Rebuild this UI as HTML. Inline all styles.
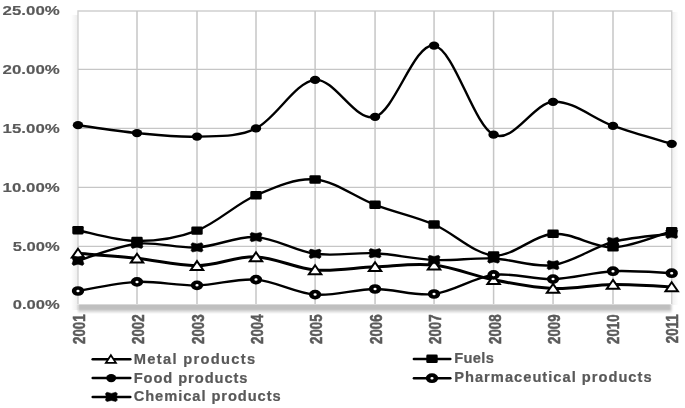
<!DOCTYPE html>
<html><head><meta charset="utf-8"><style>
html,body{margin:0;padding:0;background:#fff;}
body{width:685px;height:408px;overflow:hidden;}
svg{display:block;}
.grid line{stroke:#c6c6c6;stroke-width:1.2;}
.grid line.v{stroke-width:1.5;stroke:#c6c6c6;}
.ln{fill:none;stroke:#000;stroke-linejoin:round;}
.mk-food ellipse,.fill{fill:#000;}
.mk-fuel rect{fill:#000;}
.ring{fill:#fff;stroke:#000;stroke-width:2.9;}
.leg line{stroke:#000;stroke-linecap:round;}
text{font-family:"Liberation Sans",Arial,sans-serif;font-weight:bold;fill:#595959;stroke:#595959;stroke-width:0.45px;}
.yl text{font-size:13.3px;stroke-width:0.15px;}
.xl text{font-size:13.3px;}
.lt text{font-size:14px;stroke-width:0.2px;}
</style></head><body>
<svg width="685" height="408" viewBox="0 0 685 408">
<defs>
 <path id="mx" d="M-6.0,-3.2 L-4.5,-4.7 L0,-3.5 L4.5,-4.7 L6.0,-3.2 L4.9,0 L6.0,3.2 L4.5,4.7 L0,3.5 L-4.5,4.7 L-6.0,3.2 L-4.9,0 Z" fill="#000" stroke="#000" stroke-width="0.5" stroke-linejoin="round"/>
 <ellipse id="mo" cx="0" cy="0" rx="3.05" ry="3.05" transform="scale(1.28,1)" fill="#fff" stroke="#000" stroke-width="3.6"/>
 <path id="mtl" d="M0,-4.0 L5.0,3.6 L-5.0,3.6 Z" fill="#fff" stroke="#000" stroke-width="1.8" stroke-linejoin="miter"/>
 <g id="mt"><path d="M0,-4.6 L6.2,4.3 L-6.2,4.3 Z" fill="#fff" stroke="#000" stroke-width="2.0" stroke-linejoin="miter"/></g>
 <filter id="bl" x="-0.1" y="-1" width="1.2" height="3"><feGaussianBlur stdDeviation="1.3 0.4"/></filter>
 <linearGradient id="shb" x1="0" y1="0" x2="0" y2="1">
  <stop offset="0" stop-color="#eeeeee"/><stop offset="0.15" stop-color="#bfbfbf"/><stop offset="0.52" stop-color="#c0c0c0"/><stop offset="0.75" stop-color="#e0e0e0"/><stop offset="1" stop-color="#ffffff"/>
 </linearGradient>
 <linearGradient id="shr" x1="0" y1="0" x2="1" y2="0">
  <stop offset="0" stop-color="#efefef"/><stop offset="1" stop-color="#ffffff"/>
 </linearGradient>
 <linearGradient id="shl" x1="1" y1="0" x2="0" y2="0">
  <stop offset="0" stop-color="#ededed"/><stop offset="1" stop-color="#ffffff"/>
 </linearGradient>
</defs>
<rect width="685" height="408" fill="#fff"/>
<rect x="71" y="15" width="7" height="295" fill="url(#shl)"/>
<rect x="672" y="12" width="6.5" height="293" fill="url(#shr)"/>
<rect x="78" y="303.8" width="593.5" height="10.2" fill="url(#shb)" filter="url(#bl)"/>
<rect x="78" y="11" width="593.7" height="292.8" fill="#fff"/>
<path d="M78,304 V11 H671.7 V304" fill="none" stroke="#d0d0d0" stroke-width="1.4"/>
<g class="grid"><line x1="78" y1="246.40" x2="671.7" y2="246.40"/><line x1="78" y1="187.30" x2="671.7" y2="187.30"/><line x1="78" y1="128.30" x2="671.7" y2="128.30"/><line x1="78" y1="69.35" x2="671.7" y2="69.35"/><line x1="137.00" y1="11" x2="137.00" y2="304" class="v"/><line x1="197.00" y1="11" x2="197.00" y2="304" class="v"/><line x1="256.00" y1="11" x2="256.00" y2="304" class="v"/><line x1="315.10" y1="11" x2="315.10" y2="304" class="v"/><line x1="375.05" y1="11" x2="375.05" y2="304" class="v"/><line x1="434.05" y1="11" x2="434.05" y2="304" class="v"/><line x1="493.60" y1="11" x2="493.60" y2="304" class="v"/><line x1="553.05" y1="11" x2="553.05" y2="304" class="v"/><line x1="613.00" y1="11" x2="613.00" y2="304" class="v"/></g>
<path d="M78.00,253.30 C87.83,254.13 117.17,256.23 137.00,258.30 C156.83,260.37 177.17,265.93 197.00,265.70 C216.83,265.47 236.32,256.20 256.00,256.90 C275.68,257.60 295.26,268.25 315.10,269.90 C334.94,271.55 355.23,267.60 375.05,266.80 C394.88,266.00 414.29,262.93 434.05,265.10 C453.81,267.27 473.77,275.90 493.60,279.80 C513.43,283.70 533.15,287.72 553.05,288.50 C572.95,289.28 593.23,284.77 613.00,284.50 C632.77,284.23 661.92,286.50 671.70,286.90" class="ln" stroke-width="3.0"/>
<g class="mk-metal"><use href="#mt" x="78.00" y="253.30"/><use href="#mt" x="137.00" y="258.30"/><use href="#mt" x="197.00" y="265.70"/><use href="#mt" x="256.00" y="256.90"/><use href="#mt" x="315.10" y="269.90"/><use href="#mt" x="375.05" y="266.80"/><use href="#mt" x="434.05" y="265.10"/><use href="#mt" x="493.60" y="279.80"/><use href="#mt" x="553.05" y="288.50"/><use href="#mt" x="613.00" y="284.50"/><use href="#mt" x="671.70" y="286.90"/></g>
<path d="M78.00,230.20 C87.83,232.00 117.17,240.93 137.00,241.00 C156.83,241.07 177.17,238.22 197.00,230.60 C216.83,222.98 236.32,203.82 256.00,195.30 C275.68,186.78 295.26,177.92 315.10,179.50 C334.94,181.08 355.23,197.30 375.05,204.80 C394.88,212.30 414.29,216.07 434.05,224.50 C453.81,232.93 473.77,253.85 493.60,255.40 C513.43,256.95 533.15,235.13 553.05,233.80 C572.95,232.47 593.23,247.85 613.00,247.40 C632.77,246.95 661.92,233.82 671.70,231.10" class="ln" stroke-width="2.4"/>
<g class="mk-fuel"><rect x="72.30" y="226.00" width="11.4" height="8.4" rx="1.3"/><rect x="131.30" y="236.80" width="11.4" height="8.4" rx="1.3"/><rect x="191.30" y="226.40" width="11.4" height="8.4" rx="1.3"/><rect x="250.30" y="191.10" width="11.4" height="8.4" rx="1.3"/><rect x="309.40" y="175.30" width="11.4" height="8.4" rx="1.3"/><rect x="369.35" y="200.60" width="11.4" height="8.4" rx="1.3"/><rect x="428.35" y="220.30" width="11.4" height="8.4" rx="1.3"/><rect x="487.90" y="251.20" width="11.4" height="8.4" rx="1.3"/><rect x="547.35" y="229.60" width="11.4" height="8.4" rx="1.3"/><rect x="607.30" y="243.20" width="11.4" height="8.4" rx="1.3"/><rect x="666.00" y="226.90" width="11.4" height="8.4" rx="1.3"/></g>
<path d="M78.00,125.20 C87.83,126.52 117.17,131.20 137.00,133.10 C156.83,135.00 177.17,137.38 197.00,136.60 C216.83,135.82 236.32,137.85 256.00,128.40 C275.68,118.95 295.26,81.83 315.10,79.90 C334.94,77.97 355.23,122.52 375.05,116.80 C394.88,111.08 414.29,42.62 434.05,45.60 C453.81,48.58 473.77,125.33 493.60,134.70 C513.43,144.07 533.15,103.27 553.05,101.80 C572.95,100.33 593.23,118.90 613.00,125.90 C632.77,132.90 661.92,140.82 671.70,143.80" class="ln" stroke-width="2.4"/>
<g class="mk-food"><ellipse cx="78.00" cy="125.20" rx="5.2" ry="4.1"/><ellipse cx="137.00" cy="133.10" rx="5.2" ry="4.1"/><ellipse cx="197.00" cy="136.60" rx="5.2" ry="4.1"/><ellipse cx="256.00" cy="128.40" rx="5.2" ry="4.1"/><ellipse cx="315.10" cy="79.90" rx="5.2" ry="4.1"/><ellipse cx="375.05" cy="116.80" rx="5.2" ry="4.1"/><ellipse cx="434.05" cy="45.60" rx="5.2" ry="4.1"/><ellipse cx="493.60" cy="134.70" rx="5.2" ry="4.1"/><ellipse cx="553.05" cy="101.80" rx="5.2" ry="4.1"/><ellipse cx="613.00" cy="125.90" rx="5.2" ry="4.1"/><ellipse cx="671.70" cy="143.80" rx="5.2" ry="4.1"/></g>
<path d="M78.00,291.00 C87.83,289.48 117.17,282.84 137.00,281.90 C156.83,280.96 177.17,285.73 197.00,285.35 C216.83,284.97 236.32,278.06 256.00,279.60 C275.68,281.14 295.26,293.03 315.10,294.60 C334.94,296.17 355.23,289.10 375.05,289.00 C394.88,288.90 414.29,296.35 434.05,294.00 C453.81,291.65 473.77,277.38 493.60,274.90 C513.43,272.42 533.15,279.72 553.05,279.10 C572.95,278.48 593.23,272.18 613.00,271.20 C632.77,270.22 661.92,272.87 671.70,273.20" class="ln" stroke-width="2.4"/>
<g class="mk-pharm"><use href="#mo" x="78.00" y="291.00"/><use href="#mo" x="137.00" y="281.90"/><use href="#mo" x="197.00" y="285.35"/><use href="#mo" x="256.00" y="279.60"/><use href="#mo" x="315.10" y="294.60"/><use href="#mo" x="375.05" y="289.00"/><use href="#mo" x="434.05" y="294.00"/><use href="#mo" x="493.60" y="274.90"/><use href="#mo" x="553.05" y="279.10"/><use href="#mo" x="613.00" y="271.20"/><use href="#mo" x="671.70" y="273.20"/></g>
<path d="M78.00,260.70 C87.83,257.87 117.17,245.92 137.00,243.70 C156.83,241.48 177.17,248.50 197.00,247.40 C216.83,246.30 236.32,236.03 256.00,237.10 C275.68,238.17 295.26,251.10 315.10,253.80 C334.94,256.50 355.23,252.27 375.05,253.30 C394.88,254.33 414.29,259.13 434.05,260.00 C453.81,260.87 473.77,257.65 493.60,258.50 C513.43,259.35 533.15,267.87 553.05,265.10 C572.95,262.33 593.23,247.12 613.00,241.90 C632.77,236.68 661.92,235.15 671.70,233.80" class="ln" stroke-width="2.4"/>
<g class="mk-chem"><use href="#mx" x="78.00" y="260.70"/><use href="#mx" x="137.00" y="243.70"/><use href="#mx" x="197.00" y="247.40"/><use href="#mx" x="256.00" y="237.10"/><use href="#mx" x="315.10" y="253.80"/><use href="#mx" x="375.05" y="253.30"/><use href="#mx" x="434.05" y="260.00"/><use href="#mx" x="493.60" y="258.50"/><use href="#mx" x="553.05" y="265.10"/><use href="#mx" x="613.00" y="241.90"/><use href="#mx" x="671.70" y="233.80"/></g>
<g class="yl"><text x="12.80" y="309.00" textLength="47.0" lengthAdjust="spacingAndGlyphs">0.00%</text><text x="12.80" y="250.90" textLength="47.0" lengthAdjust="spacingAndGlyphs">5.00%</text><text x="2.60" y="191.80" textLength="57.2" lengthAdjust="spacingAndGlyphs">10.00%</text><text x="2.60" y="132.80" textLength="57.2" lengthAdjust="spacingAndGlyphs">15.00%</text><text x="2.60" y="73.85" textLength="57.2" lengthAdjust="spacingAndGlyphs">20.00%</text><text x="2.60" y="15.20" textLength="57.2" lengthAdjust="spacingAndGlyphs">25.00%</text></g>
<g class="xl"><text transform="translate(78.70,314.4) scale(1.3,1) rotate(-90)" x="0" y="0" text-anchor="end" dy="0.35em">2001</text><text transform="translate(138.30,314.4) scale(1.3,1) rotate(-90)" x="0" y="0" text-anchor="end" dy="0.35em">2002</text><text transform="translate(197.50,314.4) scale(1.3,1) rotate(-90)" x="0" y="0" text-anchor="end" dy="0.35em">2003</text><text transform="translate(257.30,314.4) scale(1.3,1) rotate(-90)" x="0" y="0" text-anchor="end" dy="0.35em">2004</text><text transform="translate(315.60,314.4) scale(1.3,1) rotate(-90)" x="0" y="0" text-anchor="end" dy="0.35em">2005</text><text transform="translate(376.00,314.4) scale(1.3,1) rotate(-90)" x="0" y="0" text-anchor="end" dy="0.35em">2006</text><text transform="translate(435.00,314.4) scale(1.3,1) rotate(-90)" x="0" y="0" text-anchor="end" dy="0.35em">2007</text><text transform="translate(495.10,314.4) scale(1.3,1) rotate(-90)" x="0" y="0" text-anchor="end" dy="0.35em">2008</text><text transform="translate(554.10,314.4) scale(1.3,1) rotate(-90)" x="0" y="0" text-anchor="end" dy="0.35em">2009</text><text transform="translate(612.50,314.4) scale(1.3,1) rotate(-90)" x="0" y="0" text-anchor="end" dy="0.35em">2010</text><text transform="translate(672.10,314.4) scale(1.3,1) rotate(-90)" x="0" y="0" text-anchor="end" dy="0.35em">2011</text></g>

<g class="leg">
 <line x1="92.7" y1="359.3" x2="130.3" y2="359.3" stroke-width="2.6"/>
 <use href="#mtl" x="110.9" y="359.2"/>
 <line x1="92.7" y1="378.1" x2="130.3" y2="378.1" stroke-width="2.5"/>
 <ellipse cx="111.2" cy="378.1" rx="5.0" ry="4.1" class="fill"/>
 <line x1="92.7" y1="396.9" x2="130.3" y2="396.9" stroke-width="2.5"/>
 <use href="#mx" x="111.4" y="396.9"/>
 <line x1="413.9" y1="359.0" x2="450.3" y2="359.0" stroke-width="2.5"/>
 <rect x="426.3" y="354.6" width="11.4" height="8.4" rx="1.3" class="fill"/>
 <line x1="413.9" y1="378.2" x2="450.3" y2="378.2" stroke-width="2.5"/>
 <use href="#mo" x="432" y="378.2"/>
</g>
<g class="lt">
 <text transform="translate(133.7,363.6) scale(1.050,1)" textLength="115.71" lengthAdjust="spacing">Metal products</text>
 <text transform="translate(133.7,382.5) scale(1.050,1)" textLength="108.38" lengthAdjust="spacing">Food products</text>
 <text transform="translate(133.7,401.2) scale(1.050,1)" textLength="140.00" lengthAdjust="spacing">Chemical products</text>
 <text transform="translate(454.2,363.4) scale(1.050,1)" textLength="37.90" lengthAdjust="spacing">Fuels</text>
 <text transform="translate(454.2,381.8) scale(1.050,1)" textLength="188.00" lengthAdjust="spacing">Pharmaceutical products</text>
</g>

</svg>
</body></html>
